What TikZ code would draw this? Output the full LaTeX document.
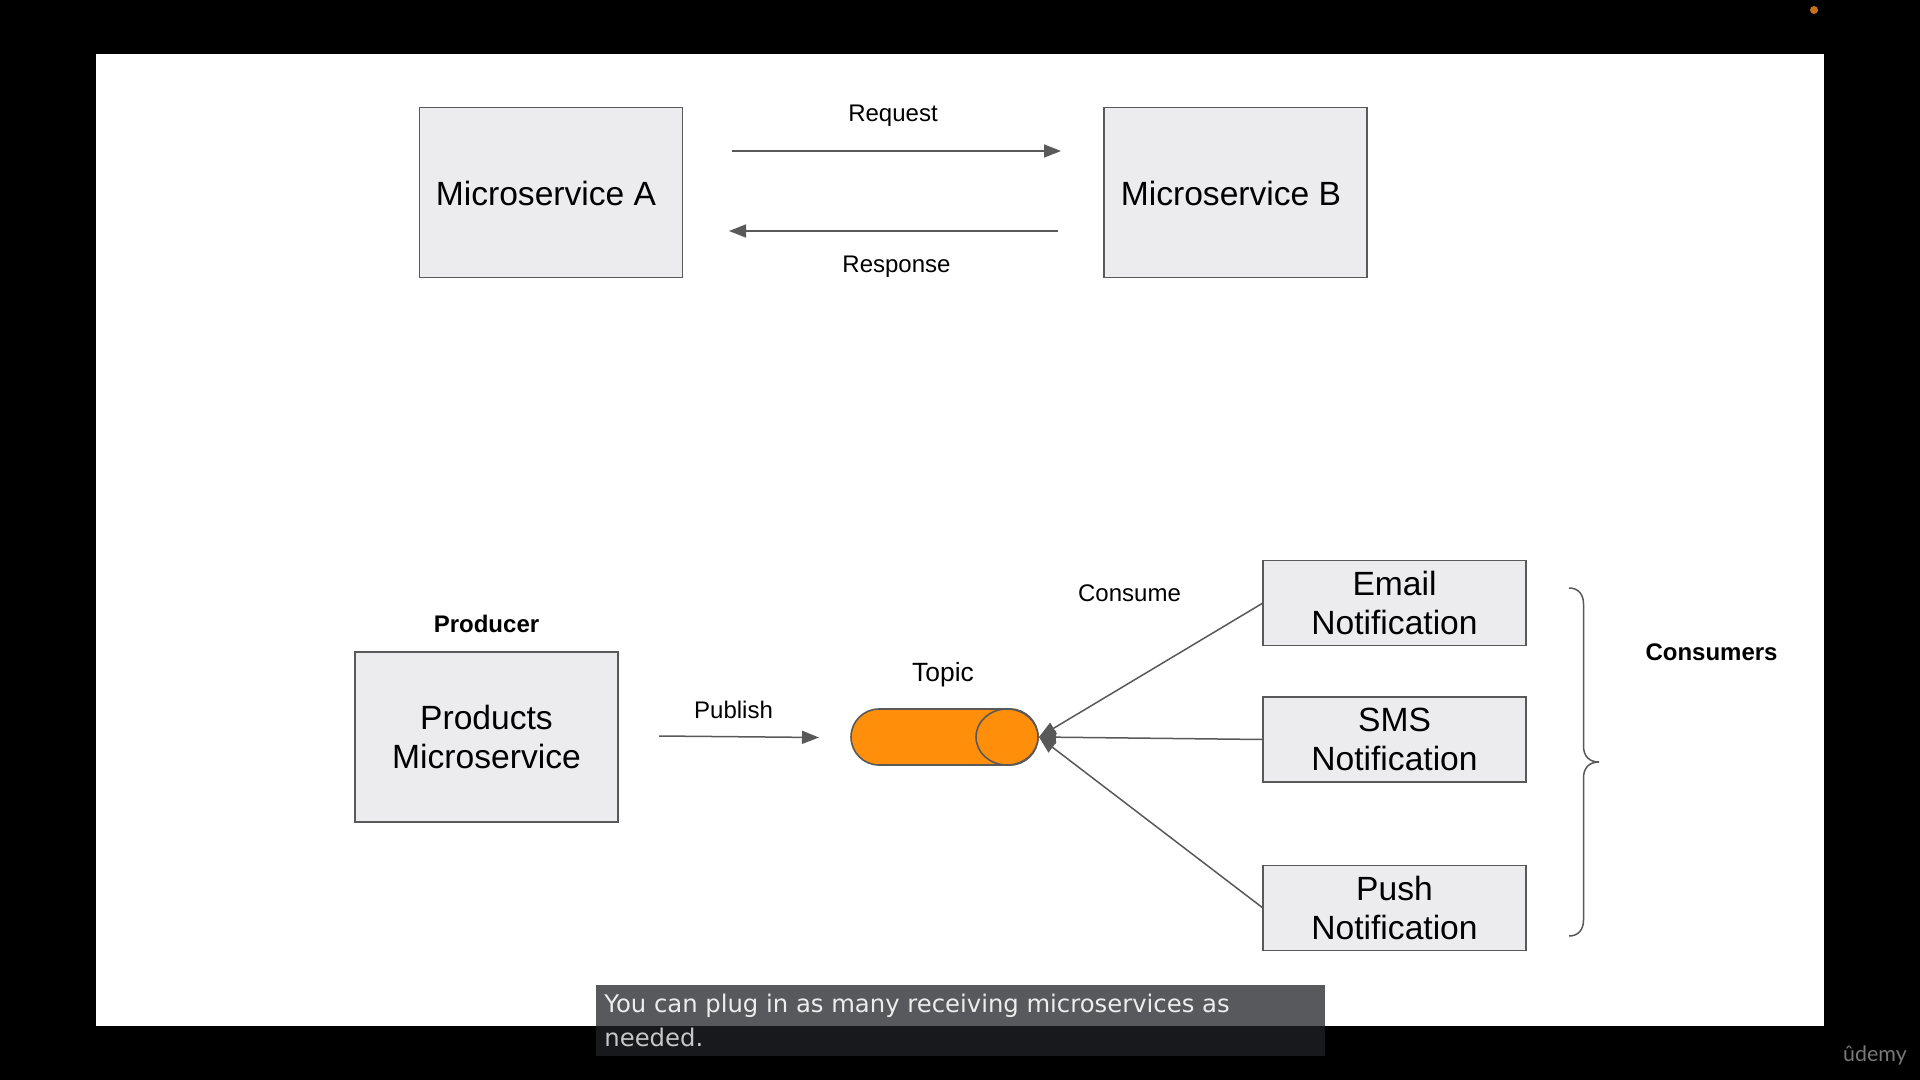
\documentclass[tikz,border=0pt]{standalone}
\usepackage{fontspec}
\setmainfont{Liberation Sans}
\newfontfamily\capfont{DejaVu Sans}
\newfontfamily\logofont{Lato}
\usetikzlibrary{arrows.meta,shapes.geometric}
\definecolor{boxfill}{HTML}{ECEBED}
\definecolor{linegray}{HTML}{595959}
\definecolor{topicfill}{HTML}{FF8F0A}
\definecolor{captop}{HTML}{58595D}
\definecolor{capbot}{HTML}{18191D}
\definecolor{dotcol}{HTML}{C8701A}
\tikzset{
  bigbox/.style={draw=linegray,fill=boxfill,line width=0.8pt,minimum width=131.6pt,minimum height=85pt,inner sep=0pt,outer sep=0pt,align=center,font=\fontsize{16.8}{19.7}\selectfont,text=black},
  smallbox/.style={draw=linegray,fill=boxfill,line width=0.8pt,minimum width=131.6pt,minimum height=42.6pt,inner sep=0pt,outer sep=0pt,align=center,font=\fontsize{16.8}{19.7}\selectfont,text=black},
  lbl/.style={inner sep=0pt,font=\fontsize{12}{14}\selectfont,text=black},
  blbl/.style={inner sep=0pt,font=\fontsize{12}{14}\selectfont\bfseries,text=black},
  conn/.style={draw=linegray,line width=0.75pt,-{Triangle[length=8.5pt,width=6.5pt]}},
  captext/.style={inner sep=0pt,anchor=base west,font=\fontsize{12.15}{16}\capfont},
  capband/.style={inner sep=0pt,outer sep=0pt,minimum width=364.5pt}
}
\begin{document}
\begin{tikzpicture}[x=0.5pt,y=-0.5pt]
\useasboundingbox (0,0) rectangle (1920,1080);
\fill[black] (0,0) rectangle (1920,1080);
\fill[white] (96,54) rectangle (1824,1026);
\fill[dotcol] (1814,10) circle (4);
% top pair
\node[bigbox] (msa) at (551,192.5) {};
\node[bigbox] (msb) at (1235.5,192.5) {};
\node[font=\fontsize{16.8}{19.7}\selectfont,inner sep=0pt] (msat) at (546,193.5) {Microservice A};
\node[font=\fontsize{16.8}{19.7}\selectfont,inner sep=0pt] (msbt) at (1231,193.5) {Microservice B};
\coordinate (reqs) at (732,151);
\coordinate (reqe) at (1061,151);
\coordinate (ress) at (1058,231);
\coordinate (rese) at (729,231);
\draw[conn] (reqs) -- (reqe);
\draw[conn] (ress) -- (rese);
\node[lbl] (req) at (893,116) {Request};
\node[lbl] (res) at (896.5,267) {Response};
% producer
\node[bigbox,text depth=0pt] (prod) at (486.5,737) {Products\\Microservice};
\node[blbl] (prodl) at (486.5,624) {Producer};
\coordinate (pubs) at (659,736);
\coordinate (pube) at (819,737.5);
\draw[conn] (pubs) -- (pube);
\node[lbl] (pub) at (733.5,709.5) {Publish};
% topic
\node[draw=linegray,fill=topicfill,line width=0.8pt,rounded corners=14pt,minimum width=93.5pt,minimum height=28pt,inner sep=0pt,outer sep=0pt] (topic) at (944.5,737) {};
\node[ellipse,draw=linegray,fill=topicfill,line width=0.8pt,minimum width=31pt,minimum height=28pt,inner sep=0pt,outer sep=0pt] (topicend) at (1007,737) {};
\node[inner sep=0pt,font=\fontsize{13.2}{15}\selectfont,text=black] (topicl) at (943,674.5) {Topic};
% consumers
\node[smallbox] (email) at (1394.5,603) {Email\\Notification};
\node[smallbox] (sms) at (1394.5,739.5) {SMS\\Notification};
\node[smallbox] (push) at (1394.5,908) {Push\\Notification};
\coordinate (tip) at (1039,737);
\draw[conn] (email.west) -- (tip);
\draw[conn] (sms.west) -- (tip);
\draw[conn] (push.west) -- (tip);
\node[lbl] (cons) at (1129.5,593) {Consume};
% brace
\draw[linegray,line width=0.75pt] (1569,588) .. controls (1578,588) and (1583.5,594) .. (1583.5,604)
  -- (1583.5,746) .. controls (1583.5,756) and (1589,762) .. (1599,762)
  .. controls (1589,762) and (1583.5,768) .. (1583.5,778)
  -- (1583.5,920) .. controls (1583.5,930) and (1578,936) .. (1569,936);
\node[blbl] (consl) at (1711.5,652) {Consumers};
% caption
\node[capband,fill=captop,minimum height=20.75pt,anchor=north west] (capa) at (596,984.5) {};
\node[capband,fill=capbot,minimum height=15pt,anchor=north west] (capb) at (596,1026) {};
\node[captext,text=white!93!black] (capl1) at (604,1012) {You can plug in as many receiving microservices as};
\node[captext,text=white!78!black] (capl2) at (604,1046) {needed.};
% logo
\node[inner sep=0pt,text=white!47!black,font=\fontsize{10.7}{14}\logofont] (logo) at (1875,1055) {ûdemy};
\end{tikzpicture}
\end{document}
